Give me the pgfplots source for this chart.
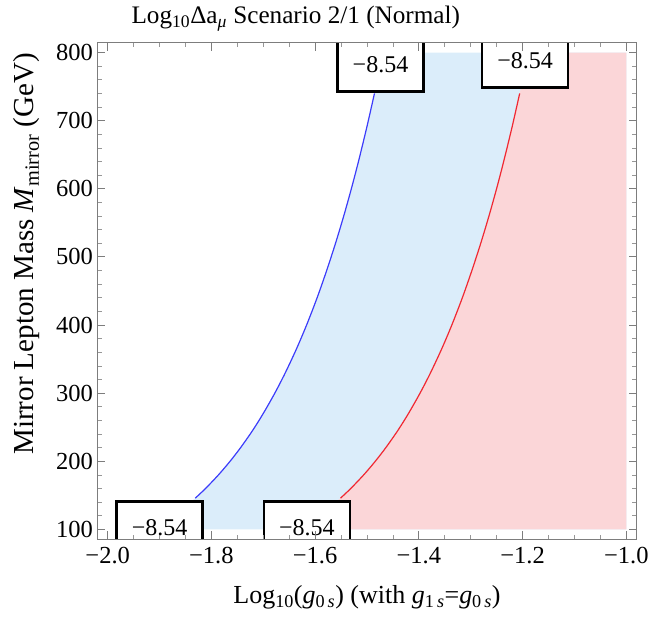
\documentclass[border=0pt]{standalone}
\usepackage{fontspec}
\setmainfont{Liberation Serif}
\usepackage{pgfplots}
\pgfplotsset{compat=1.18}
\usepackage{pgfplotstable}

\definecolor{bfill}{RGB}{219,237,250}
\definecolor{rfill}{RGB}{251,214,216}
\definecolor{bline}{RGB}{60,60,250}
\definecolor{rline}{RGB}{240,40,50}
\definecolor{framec}{RGB}{125,125,125}
\newcommand{\fs}{\fontsize{24.5}{29}\selectfont}
\newcommand{\fb}{\fontsize{24}{28}\selectfont}
\newcommand{\ft}{\fontsize{25.2}{30}\selectfont}
\newcommand{\fx}{\fontsize{26}{30}\selectfont}
\newcommand{\fy}{\fontsize{29}{33}\selectfont}

\pgfplotstableread{
x y
-1.9116 100
-1.8913 110
-1.8727 120
-1.8477 135
-1.8310 146
-1.8115 160
-1.7865 180
-1.7641 200
-1.7438 220
-1.7208 245
-1.7002 270
-1.6778 300
-1.6575 330
-1.6360 365
-1.6165 400
-1.5962 440
-1.5778 480
-1.5607 520
-1.5449 560
-1.5302 600
-1.5165 640
-1.5005 690
-1.4856 740
-1.4690 800
}\bluecurve

\pgfplotstableread{
x y
-1.6316 100
-1.6113 110
-1.5927 120
-1.5677 135
-1.5510 146
-1.5315 160
-1.5065 180
-1.4841 200
-1.4638 220
-1.4408 245
-1.4202 270
-1.3978 300
-1.3775 330
-1.3560 365
-1.3365 400
-1.3162 440
-1.2978 480
-1.2807 520
-1.2649 560
-1.2502 600
-1.2365 640
-1.2205 690
-1.2056 740
-1.1890 800
}\redcurve

\pgfplotstableread{
x y
-1.9116 100
-1.8913 110
-1.8727 120
-1.8477 135
-1.8310 146
-1.8115 160
-1.7865 180
-1.7641 200
-1.7438 220
-1.7208 245
-1.7002 270
-1.6778 300
-1.6575 330
-1.6360 365
-1.6165 400
-1.5962 440
-1.5778 480
-1.5607 520
-1.5449 560
-1.5302 600
-1.5165 640
-1.5005 690
-1.4856 740
-1.4690 800
-1.0 800
-1.0 100
}\bluearea

\pgfplotstableread{
x y
-1.6316 100
-1.6113 110
-1.5927 120
-1.5677 135
-1.5510 146
-1.5315 160
-1.5065 180
-1.4841 200
-1.4638 220
-1.4408 245
-1.4202 270
-1.3978 300
-1.3775 330
-1.3560 365
-1.3365 400
-1.3162 440
-1.2978 480
-1.2807 520
-1.2649 560
-1.2502 600
-1.2365 640
-1.2205 690
-1.2056 740
-1.1890 800
-1.0 800
-1.0 100
}\redarea

\begin{document}
\begin{tikzpicture}
\begin{axis}[
  width=539.4pt, height=496pt, scale only axis,
  xmin=-2.02, xmax=-0.98, ymin=86, ymax=814,
  xtick={-2,-1.8,-1.6,-1.4,-1.2,-1},
  xticklabels={−2.0,−1.8,−1.6,−1.4,−1.2,−1.0},
  ytick={100,200,300,400,500,600,700,800},
  yticklabels={100,200,300,400,500,600,700,800},
  minor x tick num=3, minor y tick num=4,
  tick align=inside,
  major tick length=8pt, minor tick length=4.5pt,
  major tick style={framec, line width=0.9pt},
  minor tick style={framec!80, line width=0.8pt},
  axis line style={framec, line width=1pt},
  axis on top,
  tick label style={font=\fs},
  xticklabel style={yshift=-5pt},
  yticklabel style={xshift=-1pt},
  title={Log\textsubscript{10}Δa\textsubscript{\textit{μ}} Scenario 2/1 (Normal)},
  title style={font=\ft, at={(0.368,1.0262)}, anchor=base, yshift=0pt},
  xlabel={Log\textsubscript{10}(\textit{g}\textsubscript{0\,\textit{s}}) (with \textit{g}\textsubscript{1\,\textit{s}}=\textit{g}\textsubscript{0\,\textit{s}})},
  xlabel style={font=\fx, at={(0.5,-0.131)}, anchor=base},
  ylabel={Mirror Lepton Mass \textit{M}\textsubscript{mirror} (GeV)},
  ylabel style={font=\fy, at={(-0.1305,0.575)}, anchor=center},
]
\addplot[fill=bfill, draw=none] table[x=x,y=y] {\bluearea} -- cycle;
\addplot[fill=rfill, draw=none] table[x=x,y=y] {\redarea} -- cycle;
\addplot[bline, line width=1.2pt, smooth, restrict y to domain=145:741] table[x=x,y=y] {\bluecurve};
\addplot[rline, line width=1.2pt, smooth, restrict y to domain=145:741] table[x=x,y=y] {\redcurve};
\node[draw=black, line width=2.5pt, fill=white, minimum width=86pt, minimum height=53pt, inner sep=0pt, font=\fb] at (axis cs:-1.900,101.9) {−8.54};
\node[draw=black, line width=2.5pt, fill=white, minimum width=86pt, minimum height=53pt, inner sep=0pt, font=\fb] at (axis cs:-1.616,101.9) {−8.54};
\node[draw=black, line width=2.5pt, fill=white, minimum width=86pt, minimum height=53pt, inner sep=0pt, font=\fb] at (axis cs:-1.474,781.7) {−8.54};
\node[draw=black, line width=2.5pt, fill=white, minimum width=86pt, minimum height=53pt, inner sep=0pt, font=\fb] at (axis cs:-1.195,787.6) {−8.54};
\end{axis}
\pgfresetboundingbox
\path (current axis.south west) ++(-97.3pt,-77pt) rectangle ++(648pt,616pt);
\end{tikzpicture}
\end{document}
